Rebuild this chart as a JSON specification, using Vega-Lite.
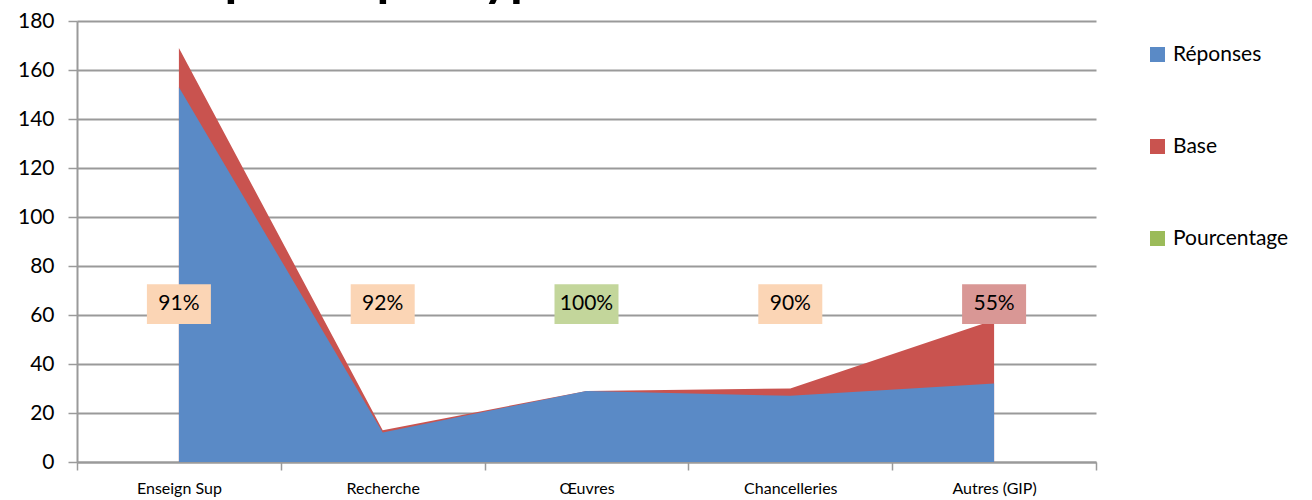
{
  "$schema": "https://vega.github.io/schema/vega-lite/v6.json",
  "width": 1019,
  "height": 441,
  "autosize": {"type": "none"},
  "padding": {"left": 77, "top": 21, "right": 216, "bottom": 38},
  "background": "white",
  "config": {
    "font": "Lato",
    "view": {"stroke": null},
    "axis": {"labelColor": "black", "labelFont": "Lato"}
  },
  "title": {
    "text": "Réponse par type d'établissement",
    "anchor": "start",
    "frame": "group",
    "font": "Lato",
    "fontSize": 52,
    "fontWeight": "bold",
    "color": "black",
    "baseline": "alphabetic",
    "offset": 0,
    "dx": 88,
    "dy": 37
  },
  "datasets": {
    "effectifs": [
      {"etablissement": "Enseign Sup", "serie": "Base", "valeur": 169},
      {"etablissement": "Recherche", "serie": "Base", "valeur": 13},
      {"etablissement": "Œuvres", "serie": "Base", "valeur": 29},
      {"etablissement": "Chancelleries", "serie": "Base", "valeur": 30},
      {"etablissement": "Autres (GIP)", "serie": "Base", "valeur": 58},
      {"etablissement": "Enseign Sup", "serie": "Réponses", "valeur": 153},
      {"etablissement": "Recherche", "serie": "Réponses", "valeur": 12},
      {"etablissement": "Œuvres", "serie": "Réponses", "valeur": 29},
      {"etablissement": "Chancelleries", "serie": "Réponses", "valeur": 27},
      {"etablissement": "Autres (GIP)", "serie": "Réponses", "valeur": 32}
    ],
    "taux": [
      {"etablissement": "Enseign Sup", "taux": 0.91, "niveau": "moyen"},
      {"etablissement": "Recherche", "taux": 0.92, "niveau": "moyen"},
      {"etablissement": "Œuvres", "taux": 1.0, "niveau": "complet"},
      {"etablissement": "Chancelleries", "taux": 0.90, "niveau": "moyen"},
      {"etablissement": "Autres (GIP)", "taux": 0.55, "niveau": "faible"}
    ]
  },
  "encoding": {
    "x": {
      "field": "etablissement",
      "type": "nominal",
      "sort": ["Enseign Sup", "Recherche", "Œuvres", "Chancelleries", "Autres (GIP)"],
      "scale": {"type": "band", "paddingInner": 0, "paddingOuter": 0},
      "axis": {
        "title": null,
        "labelAngle": 0,
        "labelFontSize": 16,
        "labelPadding": 10,
        "tickBand": "extent",
        "tickSize": 8,
        "tickColor": "#9a9a9a",
        "tickWidth": 1.5,
        "domainColor": "#9a9a9a",
        "domainWidth": 2,
        "grid": false
      }
    }
  },
  "layer": [
    {
      "data": {"name": "effectifs"},
      "transform": [{"filter": "datum.serie === 'Base'"}],
      "mark": {"type": "area", "opacity": 1},
      "encoding": {
        "x": {"field": "etablissement", "type": "nominal", "bandPosition": 0.5, "sort": ["Enseign Sup", "Recherche", "Œuvres", "Chancelleries", "Autres (GIP)"]},
        "y": {
          "field": "valeur",
          "type": "quantitative",
          "stack": null,
          "scale": {"domain": [0, 180], "nice": false},
          "axis": {
            "title": null,
            "values": [0, 20, 40, 60, 80, 100, 120, 140, 160, 180],
            "labelFontSize": 21,
            "labelPadding": 14,
            "tickSize": 9,
            "tickColor": "#9a9a9a",
            "tickWidth": 1.5,
            "domainColor": "#9a9a9a",
            "domainWidth": 2,
            "grid": true,
            "gridColor": "#9a9a9a",
            "gridWidth": 2
          }
        },
        "color": {
          "field": "serie",
          "type": "nominal",
          "scale": {
            "domain": ["Réponses", "Base", "Pourcentage"],
            "range": ["#5A8AC6", "#C9534F", "#9BBB59"]
          },
          "legend": {
            "title": null,
            "orient": "none",
            "legendX": 1070,
            "legendY": 23,
            "symbolType": "square",
            "symbolSize": 225,
            "symbolStrokeWidth": 0,
            "symbolOpacity": 1,
            "labelFontSize": 21,
            "labelColor": "black",
            "labelOffset": 5,
            "rowPadding": 70
          }
        }
      }
    },
    {
      "data": {"name": "effectifs"},
      "transform": [{"filter": "datum.serie === 'Réponses'"}],
      "mark": {"type": "area", "opacity": 1},
      "encoding": {
        "x": {"field": "etablissement", "type": "nominal", "bandPosition": 0.5, "sort": ["Enseign Sup", "Recherche", "Œuvres", "Chancelleries", "Autres (GIP)"]},
        "y": {"field": "valeur", "type": "quantitative", "stack": null},
        "color": {"field": "serie", "type": "nominal"}
      }
    },
    {
      "data": {"name": "taux"},
      "mark": {"type": "bar", "width": 64},
      "encoding": {
        "x": {"field": "etablissement", "type": "nominal", "sort": ["Enseign Sup", "Recherche", "Œuvres", "Chancelleries", "Autres (GIP)"]},
        "y": {"datum": 56.3},
        "y2": {"datum": 72.6},
        "fill": {
          "field": "niveau",
          "type": "nominal",
          "scale": {"domain": ["moyen", "complet", "faible"], "range": ["#FBD5B5", "#C3D69B", "#D99795"]},
          "legend": null
        }
      }
    },
    {
      "data": {"name": "taux"},
      "mark": {"type": "text", "fontSize": 21, "color": "black", "font": "Lato"},
      "encoding": {
        "x": {"field": "etablissement", "type": "nominal", "bandPosition": 0.5, "sort": ["Enseign Sup", "Recherche", "Œuvres", "Chancelleries", "Autres (GIP)"]},
        "y": {"datum": 64.4},
        "text": {"field": "taux", "type": "quantitative", "format": ".0%"}
      }
    }
  ]
}
